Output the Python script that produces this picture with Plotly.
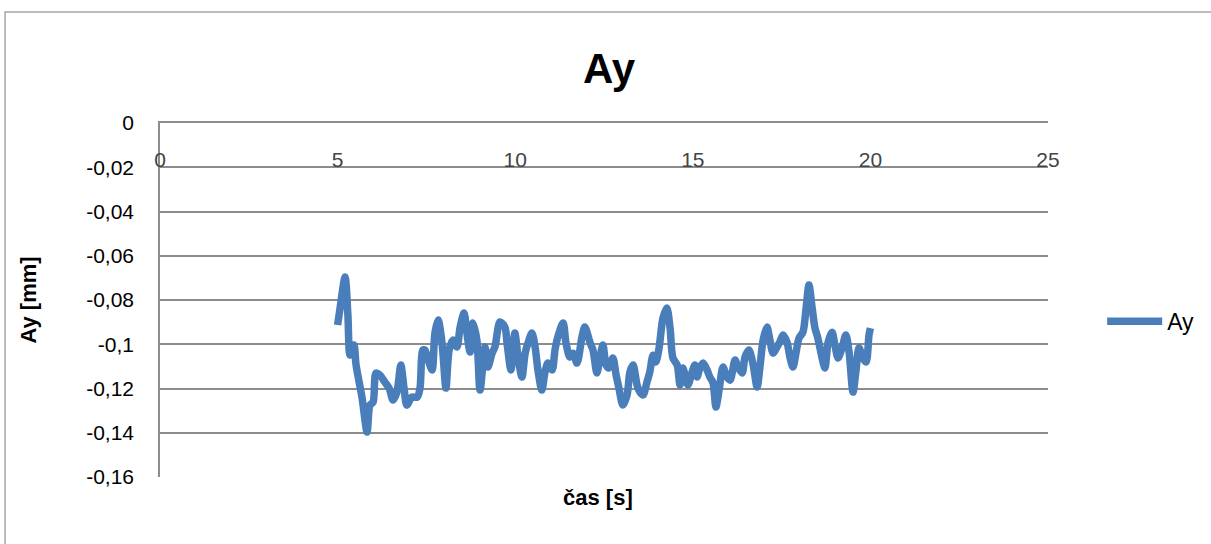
import plotly.graph_objects as go

# time [s]
cas = [5.00, 5.07, 5.21, 5.29, 5.35, 5.46, 5.52, 5.69, 5.83, 5.91, 6.00, 6.08, 6.19, 6.33, 6.45, 6.56,
       6.67, 6.78, 6.87, 6.95, 7.09, 7.24, 7.32, 7.40, 7.46, 7.55, 7.66, 7.74, 7.83, 7.94, 8.05, 8.14,
       8.25, 8.36, 8.45, 8.56, 8.64, 8.73, 8.81, 8.92, 9.01, 9.15, 9.23, 9.35, 9.43, 9.57, 9.71, 9.77,
       9.88, 9.99, 10.08, 10.19, 10.28, 10.36, 10.47, 10.56, 10.64, 10.75, 10.84, 10.92, 11.04, 11.12,
       11.20, 11.35, 11.43, 11.54, 11.63, 11.74, 11.88, 11.96, 12.11, 12.19, 12.30, 12.39, 12.47, 12.56,
       12.64, 12.75, 12.84, 12.92, 13.03, 13.15, 13.23, 13.32, 13.43, 13.51, 13.60, 13.71, 13.79, 13.88,
       13.96, 14.05, 14.16, 14.27, 14.36, 14.44, 14.56, 14.64, 14.72, 14.86, 14.98, 15.06, 15.12, 15.20,
       15.29, 15.40, 15.48, 15.57, 15.65, 15.74, 15.85, 15.96, 16.05, 16.19, 16.27, 16.39, 16.47, 16.58,
       16.69, 16.81, 16.89, 16.98, 17.09, 17.17, 17.26, 17.37, 17.45, 17.54, 17.65, 17.74, 17.82, 17.91,
       17.99, 18.10, 18.19, 18.27, 18.36, 18.44, 18.52, 18.64, 18.72, 18.81, 18.92, 19.00, 19.09, 19.20,
       19.31, 19.40, 19.51, 19.59, 19.68, 19.79, 19.88, 19.96, 20.00]

# Ay [mm]
ay = [-0.0913, -0.0836, -0.0696, -0.0868, -0.1049, -0.1003, -0.1094, -0.1243, -0.1397, -0.1275, -0.1261,
      -0.1130, -0.1139, -0.1171, -0.1198, -0.1252, -0.1216, -0.1094, -0.1198, -0.1275, -0.1239, -0.1239,
      -0.1198, -0.1026, -0.1026, -0.1071, -0.1116, -0.0949, -0.0890, -0.0994, -0.1198, -0.1026, -0.0981,
      -0.1012, -0.0922, -0.0859, -0.0949, -0.1035, -0.0904, -0.0981, -0.1207, -0.1012, -0.1103, -0.1040,
      -0.1012, -0.0899, -0.0922, -0.0994, -0.1116, -0.0949, -0.1058, -0.1148, -0.1040, -0.0994, -0.0949,
      -0.1012, -0.1116, -0.1207, -0.1125, -0.1085, -0.1116, -0.1026, -0.0967, -0.0904, -0.0994, -0.1058,
      -0.1040, -0.1085, -0.0967, -0.0922, -0.0994, -0.1026, -0.1130, -0.1058, -0.1003, -0.1094, -0.1107,
      -0.1062, -0.1139, -0.1198, -0.1275, -0.1229, -0.1125, -0.1094, -0.1184, -0.1216, -0.1229, -0.1171,
      -0.1125, -0.1049, -0.1080, -0.1017, -0.0881, -0.0836, -0.0927, -0.1062, -0.1094, -0.1184, -0.1107,
      -0.1184, -0.1125, -0.1094, -0.1148, -0.1107, -0.1085, -0.1116, -0.1148, -0.1175, -0.1284, -0.1207,
      -0.1103, -0.1148, -0.1162, -0.1071, -0.1103, -0.1130, -0.1058, -0.1026, -0.1085, -0.1193, -0.1103,
      -0.0981, -0.0922, -0.0981, -0.1040, -0.1012, -0.0990, -0.0958, -0.0990, -0.1062, -0.1103, -0.1035,
      -0.0972, -0.0945, -0.0836, -0.0732, -0.0836, -0.0927, -0.0972, -0.1062, -0.1107, -0.0990, -0.0945,
      -0.1003, -0.1062, -0.1017, -0.0958, -0.1035, -0.1216, -0.1125, -0.1017, -0.1062, -0.1080, -0.0958,
      -0.0927]

x_ticks = [0, 5, 10, 15, 20, 25]
y_ticks = [0, -0.02, -0.04, -0.06, -0.08, -0.1, -0.12, -0.14, -0.16]
y_tick_labels = ["0", "-0,02", "-0,04", "-0,06", "-0,08", "-0,1", "-0,12", "-0,14", "-0,16"]

FONT = "Liberation Sans"
GRID = "#8c8c8c"

fig = go.Figure()
fig.add_trace(go.Scatter(x=cas, y=ay, mode="lines", name="Ay",
                         line=dict(color="#4a7ebb", width=7.5, shape="spline", smoothing=0.8)))

fig.update_layout(
    width=1211, height=544,
    margin=dict(l=160, r=163, t=123, b=67),
    paper_bgcolor="white", plot_bgcolor="white",
    font=dict(family=FONT, size=21, color="black"),
    title=dict(text="<b>Ay</b>", x=0.503, xanchor="center", y=1 - 68 / 544, yanchor="middle",
               yref="container", font=dict(size=42, family=FONT, color="black")),
    showlegend=True,
    legend=dict(x=1.061, xanchor="left", y=0.44, yanchor="middle", itemwidth=55,
                font=dict(size=23, family=FONT), bgcolor="rgba(0,0,0,0)"),
    xaxis=dict(range=[0, 25], tickvals=x_ticks, side="top", ticklabelposition="inside",
               ticklabeloverflow="allow",
               ticks="", ticklabelstandoff=31, showgrid=False, zeroline=False,
               showline=True, linecolor=GRID, linewidth=1.5, automargin=False,
               tickfont=dict(size=21, family=FONT)),
    yaxis=dict(range=[-0.16, 0.00005], tickvals=y_ticks, ticktext=y_tick_labels,
               ticklabeloverflow="allow",
               ticks="", ticklabelstandoff=20, showgrid=True, gridcolor=GRID, gridwidth=1.5,
               zeroline=False, showline=True, linecolor=GRID, linewidth=1.5, automargin=False,
               tickfont=dict(size=21, family=FONT),
               title=dict(text="<b>Ay [mm]</b>", standoff=43, font=dict(size=22, family=FONT))),
    annotations=[dict(text="<b>čas [s]</b>", xref="paper", yref="paper", x=0.493, y=-0.0565,
                      xanchor="center", yanchor="middle", showarrow=False,
                      font=dict(size=22, family=FONT, color="black"))],
    shapes=[dict(type="rect", xref="paper", yref="paper", x0=-0.1745, x1=1.3, y0=-0.3, y1=1.3136,
                 line=dict(color="#a6a6a6", width=1.5), layer="below")],
)

fig.write_html("out.html", config={"displayModeBar": False},
               post_script="document.body.style.margin='0';")
